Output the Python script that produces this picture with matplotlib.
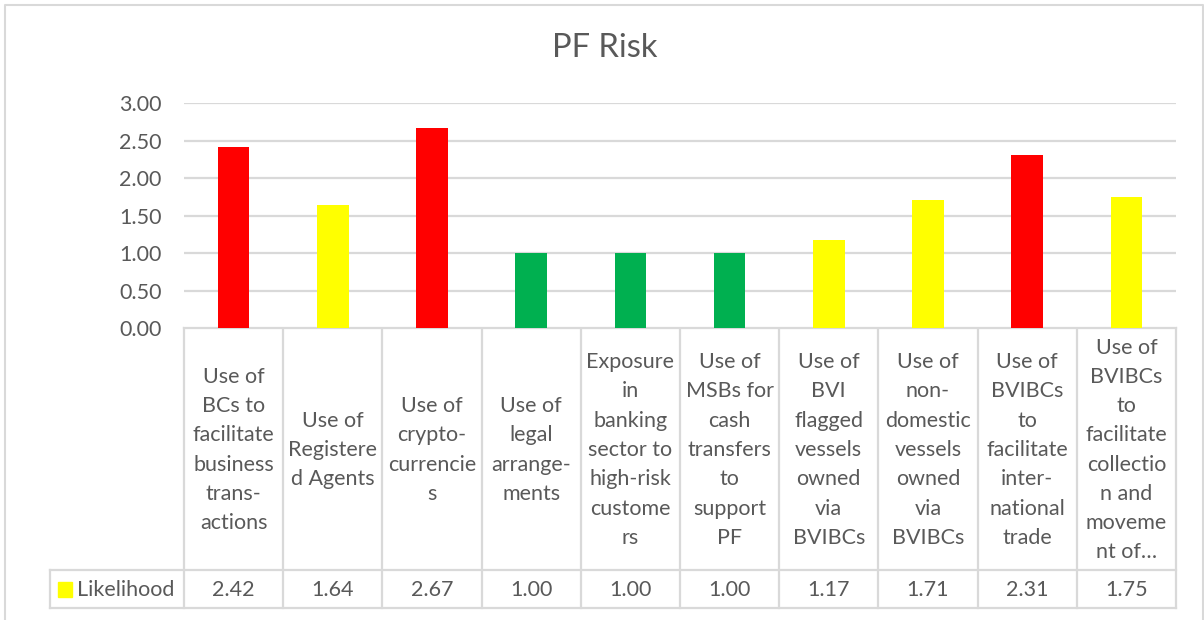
import numpy as np
import matplotlib.pyplot as plt

categories = [
    "Use of\nBCs to\nfacilitate\nbusiness\ntrans-\nactions",
    "Use of\nRegistere\nd Agents",
    "Use of\ncrypto-\ncurrencie\ns",
    "Use of\nlegal\narrange-\nments",
    "Exposure\nin\nbanking\nsector to\nhigh-risk\ncustome\nrs",
    "Use of\nMSBs for\ncash\ntransfers\nto\nsupport\nPF",
    "Use of\nBVI\nflagged\nvessels\nowned\nvia\nBVIBCs",
    "Use of\nnon-\ndomestic\nvessels\nowned\nvia\nBVIBCs",
    "Use of\nBVIBCs\nto\nfacilitate\ninter-\nnational\ntrade",
    "Use of\nBVIBCs\nto\nfacilitate\ncollectio\nn and\nmoveme\nnt of…",
]
likelihood = [2.42, 1.64, 2.67, 1.00, 1.00, 1.00, 1.17, 1.71, 2.31, 1.75]
bar_colors = ["#FF0000", "#FFFF00", "#FF0000", "#00B050", "#00B050",
              "#00B050", "#FFFF00", "#FFFF00", "#FF0000", "#FFFF00"]
series_name = "Likelihood"
y_ticks = [0.0, 0.5, 1.0, 1.5, 2.0, 2.5, 3.0]

plt.rcParams['font.family'] = ['Lato', 'DejaVu Sans']
txt = "#595959"
grid = "#D9D9D9"

W, H = 1204, 620
fig = plt.figure(figsize=(W / 100, H / 100), dpi=100)

# pixel layout
x0, x1 = 184, 1176
y_top, y_zero = 103.3, 328
row1_bot, row2_bot = 570, 608
leg_left = 50

ax = fig.add_axes([x0 / W, 1 - y_zero / H, (x1 - x0) / W, (y_zero - y_top) / H])
n = len(likelihood)
pos = np.arange(n)
ax.bar(pos, likelihood, width=0.32, color=bar_colors, zorder=3)
ax.set_xlim(-0.5, n - 0.5)
ax.set_ylim(0, 3)
ax.set_yticks(y_ticks)
ax.set_yticklabels(["%.2f" % v for v in y_ticks], fontsize=15.5, color=txt)
ax.tick_params(axis='y', length=0, pad=16)
ax.set_xticks([])
for v in y_ticks:
    ax.axhline(v, color=grid, lw=1.6, zorder=1)
for s in ax.spines.values():
    s.set_visible(False)

# data table drawn in pixel coords
tb = fig.add_axes([0, 0, 1, 1], zorder=-1)
tb.set_xlim(0, W)
tb.set_ylim(H, 0)
tb.axis('off')
col_w = (x1 - x0) / n
lk = dict(color=grid, lw=1.6)
tb.plot([x0, x1], [y_zero, y_zero], **lk)
tb.plot([leg_left, x1], [row1_bot, row1_bot], **lk)
tb.plot([leg_left, x1], [row2_bot, row2_bot], **lk)
tb.plot([leg_left, leg_left], [row1_bot, row2_bot], **lk)
for i in range(n + 1):
    xc = x0 + i * col_w
    tb.plot([xc, xc], [y_zero, row2_bot], **lk)
for i, (lab, v) in enumerate(zip(categories, likelihood)):
    cx = x0 + (i + 0.5) * col_w
    tb.text(cx, 450, lab, ha='center', va='center', fontsize=15.5,
            color=txt, linespacing=1.58)
    tb.text(cx, (row1_bot + row2_bot) / 2 + 1, "%.2f" % v, ha='center',
            va='center', fontsize=15.5, color=txt)
tb.add_patch(plt.Rectangle((58, 582), 14, 15, color="#FFFF00"))
tb.text(77, (row1_bot + row2_bot) / 2 + 1, series_name, ha='left',
        va='center', fontsize=15.5, color=txt)

# chart border
tb.plot([4.5, 4.5, 1203, 1203], [H + 5, 4.5, 4.5, H + 5], color=grid, lw=1.5)

fig.text(605 / W, 1 - 48 / H, "PF Risk", ha='center', va='center',
         fontsize=23.5, color=txt)

fig.savefig("out.png", dpi=100, facecolor="white")
